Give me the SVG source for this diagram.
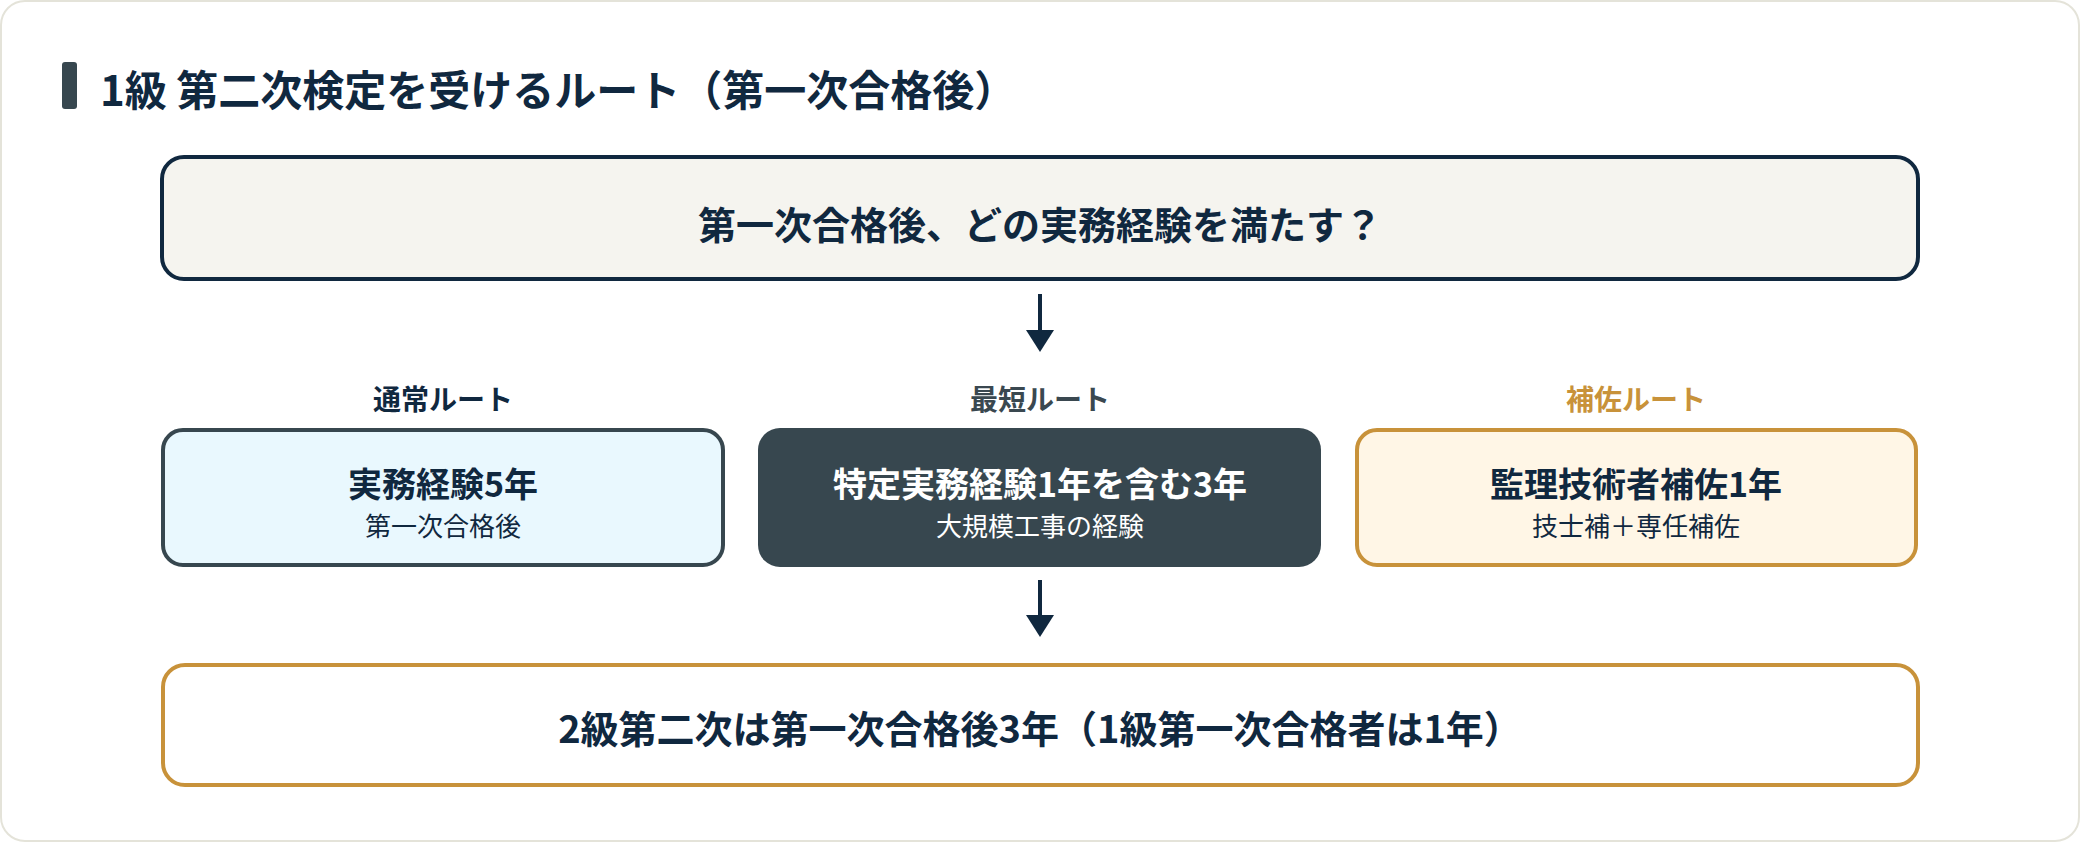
<svg xmlns="http://www.w3.org/2000/svg" width="2080" height="842" viewBox="0 0 2080 842">
<defs>
<style>
text{font-family:"Noto Sans CJK JP","Noto Sans",sans-serif;dominant-baseline:central;text-anchor:middle}
.title{font-size:42px;font-weight:700;fill:#10283f;text-anchor:start}
.q{font-size:38px;font-weight:700;fill:#10283f}
.lbl{font-size:28px;font-weight:700}
.main{font-size:34px;font-weight:700;fill:#10283f}
.sub{font-size:26px;font-weight:400;fill:#10283f}
.arrow{stroke:#10283f;stroke-width:4;fill:none}
.head{fill:#10283f}
</style>
</defs>
<rect x="1" y="1" width="2078" height="840" rx="24" fill="#ffffff" stroke="#e4e3d9" stroke-width="2"/>
<g id="title">
<rect x="62" y="62" width="15" height="47" rx="3" fill="#37474f"/>
<text class="title" x="100" y="87">1級 第二次検定を受けるルート（第一次合格後）</text>
</g>
<g id="question">
<rect x="162" y="157" width="1756" height="122" rx="22" fill="#f5f4ef" stroke="#10283f" stroke-width="4"/>
<text class="q" x="1040" y="222">第一次合格後、どの実務経験を満たす？</text>
</g>
<g id="connectors">
<line class="arrow" x1="1040" y1="294" x2="1040" y2="332"/>
<polygon class="head" points="1026,330 1054,330 1040,352"/>
<line class="arrow" x1="1040" y1="580" x2="1040" y2="617"/>
<polygon class="head" points="1026,615 1054,615 1040,637"/>
</g>
<g id="route-normal">
<text class="lbl" x="443" y="398" fill="#10283f">通常ルート</text>
<rect x="163" y="430" width="560" height="135" rx="20" fill="#e9f8fe" stroke="#37474f" stroke-width="4"/>
<text class="main" x="443" y="482">実務経験5年</text>
<text class="sub" x="443" y="524">第一次合格後</text>
</g>
<g id="route-short">
<text class="lbl" x="1040" y="398" fill="#3a4850">最短ルート</text>
<rect x="758" y="428" width="563" height="139" rx="22" fill="#37474f"/>
<text class="main" x="1040" y="482" style="fill:#ffffff">特定実務経験1年を含む3年</text>
<text class="sub" x="1040" y="524" style="fill:#ffffff">大規模工事の経験</text>
</g>
<g id="route-assist">
<text class="lbl" x="1636" y="398" fill="#c8923a">補佐ルート</text>
<rect x="1357" y="430" width="559" height="135" rx="20" fill="#fff6e6" stroke="#c8923a" stroke-width="4"/>
<text class="main" x="1636" y="482">監理技術者補佐1年</text>
<text class="sub" x="1636" y="524">技士補＋専任補佐</text>
</g>
<g id="grade2">
<rect x="163" y="665" width="1755" height="120" rx="22" fill="#ffffff" stroke="#c8923a" stroke-width="4"/>
<text class="q" x="1040" y="726">2級第二次は第一次合格後3年（1級第一次合格者は1年）</text>
</g>
</svg>
